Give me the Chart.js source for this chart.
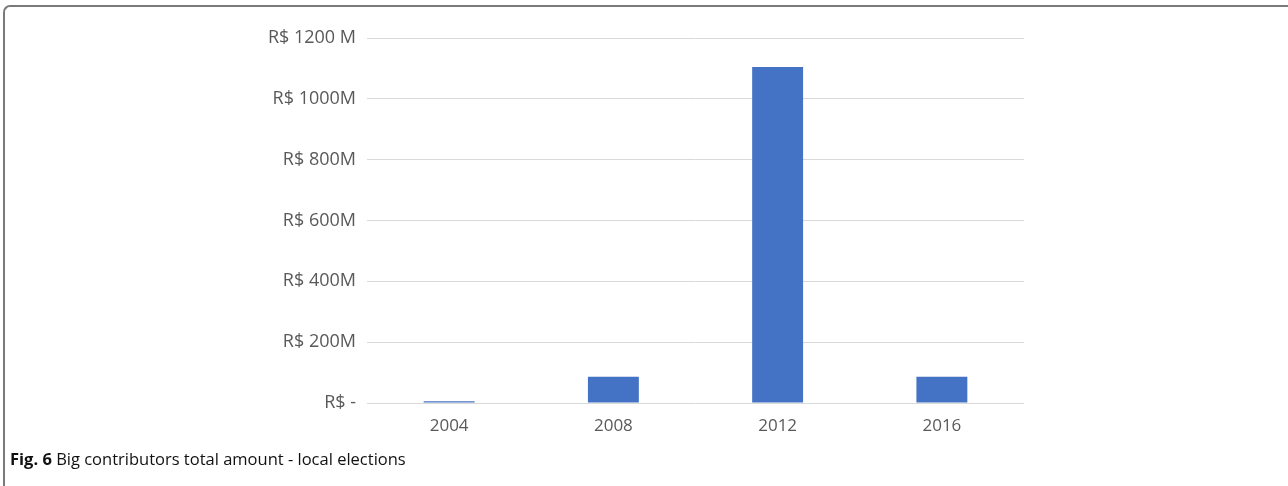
<!DOCTYPE html>
<html>
<head>
<meta charset="utf-8">
<script src="https://cdn.jsdelivr.net/npm/chart.js@4/dist/chart.umd.min.js"></script>
<style>
  html, body { margin: 0; padding: 0; background: #fff; }
  #wrap { position: relative; width: 1288px; height: 486px; overflow: hidden; }
  #frame { position: absolute; left: 3px; top: 5px; width: 1300px; height: 500px;
           border-left: 2px solid #7a7a7a; border-top: 2px solid #7a7a7a; border-top-left-radius: 7px; box-sizing: border-box; }
  #caption { position: absolute; left: 10px; top: 447px; font-family: "Open Sans", sans-serif; font-size: 16.5px; color: #111; white-space: nowrap; }
  #caption b { font-weight: 700; }
  canvas { position: absolute; left: 0; top: 0; }
</style>
</head>
<body>
<div id="wrap">
  <canvas id="c" width="1288" height="486"></canvas>
  <div id="frame"></div>
  <div id="caption"><b>Fig. 6</b> Big contributors total amount - local elections</div>
</div>
<script>
const categories = ["2004", "2008", "2012", "2016"];
const amounts = [6, 86, 1105, 86];
const tickValues = [0, 200, 400, 600, 800, 1000, 1200];
const tickLabels = ["R$ -", "R$ 200M", "R$ 400M", "R$ 600M", "R$ 800M", "R$ 1000M", "R$ 1200 M"];

new Chart(document.getElementById("c"), {
  type: "bar",
  data: {
    labels: categories,
    datasets: [{
      data: amounts,
      backgroundColor: "#4472C4",
      borderWidth: 0,
      barPercentage: 0.31,
      categoryPercentage: 1.0
    }]
  },
  options: {
    responsive: false,
    animation: false,
    devicePixelRatio: 1,
    layout: { padding: { left: 0, right: 264, top: 38, bottom: 0 } },
    plugins: { legend: { display: false }, tooltip: { enabled: false } },
    scales: {
      x: {
        grid: { display: false, drawTicks: false },
        border: { display: false },
        ticks: { color: "#595959", font: { family: "Open Sans", size: 17 }, padding: 13 },
        afterFit: s => { s.height = 83; }
      },
      y: {
        min: 0, max: 1200,
        afterBuildTicks: s => { s.ticks = tickValues.map(v => ({ value: v })); },
        grid: { color: "#d9d9d9", lineWidth: 1, drawTicks: false },
        border: { display: false },
        ticks: {
          color: "#595959",
          font: { family: "Open Sans", size: 18 },
          padding: 11,
          callback: (v) => tickLabels[tickValues.indexOf(v)]
        },
        afterFit: s => { s.width = 367; }
      }
    }
  }
});
</script>
</body>
</html>
